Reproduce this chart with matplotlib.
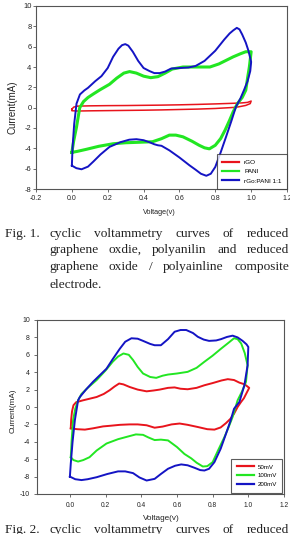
import matplotlib
matplotlib.use("Agg")
import matplotlib.pyplot as plt
import numpy as np

# ---------------- data: Fig. 1 ----------------
rgo_v = [0.0, 0.01, 0.03, 0.1, 0.2, 0.3, 0.4, 0.5, 0.6, 0.7, 0.8, 0.9, 0.95, 0.98, 1.0,
         0.995, 0.97, 0.93, 0.9, 0.8, 0.7, 0.6, 0.5, 0.4, 0.3, 0.2, 0.1, 0.03, 0.0, 0.0]
rgo_i = [-0.15, 0.05, 0.15, 0.18, 0.2, 0.21, 0.23, 0.25, 0.28, 0.32, 0.37, 0.43, 0.47, 0.52, 0.65,
         0.4, 0.22, 0.08, 0.02, -0.08, -0.14, -0.18, -0.22, -0.25, -0.27, -0.29, -0.31, -0.33, -0.3, -0.15]

pani_v = [0.0, 0.01, 0.026, 0.044, 0.065, 0.09, 0.12, 0.156, 0.21, 0.25, 0.29, 0.322, 0.36, 0.40,
          0.44, 0.48, 0.52, 0.56, 0.62, 0.70, 0.77, 0.82, 0.86, 0.90, 0.94, 0.97, 1.0,
          0.99, 0.98, 0.97, 0.95, 0.924, 0.90, 0.88, 0.855, 0.83, 0.80, 0.767, 0.74, 0.71, 0.67,
          0.62, 0.58, 0.544, 0.5, 0.45, 0.38, 0.30, 0.23, 0.15, 0.08, 0.03, 0.0]
pani_i = [-4.4, -3.3, -1.9, 0.0, 0.6, 1.0, 1.35, 1.75, 2.3, 2.9, 3.4, 3.55, 3.4, 3.1,
          2.95, 3.05, 3.4, 3.8, 4.0, 4.0, 4.0, 4.3, 4.65, 5.0, 5.3, 5.5, 5.5,
          4.0, 2.9, 1.72, 1.0, 0.41, -0.4, -1.23, -2.2, -3.04, -3.7, -4.05, -3.95, -3.7, -3.3,
          -2.87, -2.7, -2.7, -3.05, -3.35, -3.4, -3.45, -3.55, -3.8, -4.1, -4.3, -4.4]

comp_v = [0.0, 0.004, 0.013, 0.026, 0.045, 0.07, 0.09, 0.13, 0.165, 0.2, 0.23, 0.26, 0.28, 0.298,
          0.315, 0.34, 0.37, 0.40, 0.433, 0.46, 0.49, 0.52, 0.554, 0.6, 0.65, 0.69, 0.74, 0.80,
          0.85, 0.88, 0.90, 0.92, 0.935, 0.95, 0.97, 0.985, 1.0,
          0.995, 0.98, 0.96, 0.94, 0.915, 0.89, 0.86, 0.83, 0.80, 0.775, 0.75, 0.72, 0.69, 0.656,
          0.6, 0.544, 0.5, 0.48, 0.46, 0.433, 0.40, 0.36, 0.32, 0.27, 0.21, 0.16, 0.12, 0.09,
          0.054, 0.025, 0.0]
comp_i = [-5.7, -3.9, -1.6, 0.4, 1.3, 1.7, 1.95, 2.6, 3.1, 3.9, 5.0, 5.8, 6.15, 6.25,
          6.1, 5.5, 4.6, 3.9, 3.6, 3.4, 3.4, 3.55, 3.85, 3.9, 3.95, 4.1, 4.6, 5.6,
          6.7, 7.3, 7.6, 7.85, 7.7, 7.2, 6.4, 5.6, 4.5,
          3.6, 2.6, 1.72, 0.9, 0.08, -1.3, -2.87, -4.4, -5.83, -6.5, -6.7, -6.5, -6.1, -5.67,
          -4.9, -4.2, -3.75, -3.7, -3.6, -3.4, -3.2, -3.1, -3.15, -3.4, -3.86, -4.6, -5.3, -5.8,
          -6.06, -5.95, -5.7]

# ---------------- data: Fig. 2 ----------------
r50_v = [0.005, 0.007, 0.012, 0.02, 0.035, 0.074, 0.11, 0.15, 0.19, 0.223, 0.25, 0.276, 0.3, 0.335,
         0.38, 0.43, 0.47, 0.503, 0.55, 0.587, 0.62, 0.66, 0.71, 0.754, 0.8, 0.85, 0.885, 0.92,
         0.95, 0.98, 1.005,
         0.99, 0.975, 0.96, 0.94, 0.92, 0.9, 0.875, 0.845, 0.81, 0.77, 0.717, 0.66, 0.615, 0.57,
         0.52, 0.475, 0.43, 0.38, 0.335, 0.28, 0.23, 0.186, 0.13, 0.084, 0.04, 0.005]
r50_i = [-2.45, -1.5, -0.5, 0.2, 0.55, 0.77, 0.95, 1.15, 1.5, 1.93, 2.35, 2.7, 2.6, 2.3,
         2.0, 1.8, 1.9, 2.0, 2.2, 2.25, 2.1, 2.04, 2.2, 2.5, 2.75, 3.05, 3.2, 3.1,
         2.8, 2.6, 2.2,
         1.6, 1.0, 0.6, 0.0, -0.77, -1.35, -1.85, -2.35, -2.6, -2.55, -2.3, -2.05, -1.9, -2.0,
         -2.25, -2.38, -2.1, -2.0, -2.0, -2.05, -2.15, -2.23, -2.45, -2.6, -2.55, -2.45]

r100_v = [0.005, 0.01, 0.018, 0.03, 0.046, 0.065, 0.1, 0.15, 0.2, 0.24, 0.27, 0.30, 0.33, 0.354,
          0.38, 0.41, 0.45, 0.484, 0.52, 0.55, 0.6, 0.66, 0.71, 0.754, 0.8, 0.847, 0.89, 0.92,
          0.94, 0.96, 0.98, 0.996,
          0.987, 0.965, 0.94, 0.912, 0.89, 0.866, 0.83, 0.8, 0.77, 0.745, 0.71, 0.68, 0.642, 0.6,
          0.55, 0.51, 0.475, 0.44, 0.41, 0.37, 0.335, 0.27, 0.205, 0.15, 0.11, 0.075, 0.046,
          0.02, 0.005]
r100_i = [-5.77, -3.8, -1.5, -0.2, 0.77, 1.5, 2.2, 3.1, 4.2, 5.2, 5.8, 6.15, 6.0, 5.4,
          4.6, 3.85, 3.45, 3.35, 3.6, 3.73, 3.85, 4.04, 4.5, 5.2, 5.9, 6.7, 7.4, 7.9,
          7.8, 7.3, 6.2, 4.8,
          2.9, 1.8, 0.77, -1.15, -2.3, -3.46, -5.0, -6.34, -6.8, -6.84, -6.4, -5.9, -5.4, -4.6,
          -3.84, -3.75, -3.8, -3.5, -3.2, -3.15, -3.34, -3.7, -4.2, -5.0, -5.77, -6.1, -6.27,
          -6.1, -5.77]

r200_v = [0.0, 0.005, 0.015, 0.028, 0.046, 0.056, 0.09, 0.13, 0.17, 0.205, 0.24, 0.28, 0.31,
          0.345, 0.38, 0.41, 0.45, 0.475, 0.51, 0.55, 0.587, 0.62, 0.652, 0.69, 0.717, 0.75,
          0.78, 0.82, 0.847, 0.88, 0.912, 0.94, 0.968, 0.99, 1.0,
          0.996, 0.978, 0.95, 0.92, 0.9, 0.875, 0.845, 0.81, 0.78, 0.754, 0.73, 0.7, 0.66,
          0.624, 0.59, 0.55, 0.51, 0.475, 0.43, 0.39, 0.354, 0.31, 0.27, 0.21, 0.15, 0.1,
          0.065, 0.03, 0.0]
r200_i = [-8.0, -6.5, -4.0, -1.5, 0.77, 1.15, 2.0, 2.9, 3.7, 4.4, 5.5, 6.7, 7.5,
          7.9, 7.85, 7.6, 7.25, 7.1, 7.1, 7.8, 8.65, 8.85, 8.85, 8.5, 8.07, 7.75,
          7.6, 7.65, 7.8, 8.05, 8.2, 8.0, 7.6, 7.2, 6.9,
          4.8, 2.5, 0.58, -0.2, -1.6, -3.07, -4.8, -6.34, -7.1, -7.3, -7.25, -7.0, -6.7,
          -6.6, -6.75, -7.1, -7.7, -8.26, -8.45, -8.1, -7.6, -7.4, -7.4, -7.7, -8.07, -8.3,
          -8.4, -8.3, -8.0]

fig1_labels = ["rGO", "PANI", "rGo:PANI 1:1"]
fig2_labels = ["50mV", "100mV", "200mV"]
fig1_xticks = [-0.2, 0.0, 0.2, 0.4, 0.6, 0.8, 1.0, 1.2]
fig1_yticks = [-8, -6, -4, -2, 0, 2, 4, 6, 8, 10]
fig2_xticks = [0.0, 0.2, 0.4, 0.6, 0.8, 1.0, 1.2]
fig2_yticks = [-10, -8, -6, -4, -2, 0, 2, 4, 6, 8, 10]

RED, GREEN, BLUE = "#e8141c", "#22e622", "#1414c4"
SPINE = "#555555"

W, H = 290, 534
fig = plt.figure(figsize=(W / 100, H / 100), dpi=100)
fig.patch.set_facecolor("white")
SANS = "Liberation Sans"
SERIF = "Liberation Serif"


def setup(ax, xt, yt, xlim, ylim, lab_xs, lab_ys):
    ax.set_xlim(*xlim)
    ax.set_ylim(*ylim)
    ax.set_xticks(xt)
    ax.set_yticks(yt)
    ax.set_xticklabels([f"{v:.1f}" for v in xt], fontsize=lab_xs, family=SANS, color="#222222")
    ax.set_yticklabels([f"{v:d}" for v in yt], fontsize=lab_ys, family=SANS, color="#222222")
    for s in ax.spines.values():
        s.set_color(SPINE)
        s.set_linewidth(0.8)
    ax.tick_params(direction="out", length=2.5, width=0.6, color=SPINE, top=False, right=False)


# ---- Fig. 1 axes ----
ax1 = fig.add_axes([36 / W, 1 - 189 / H, (287 - 36) / W, (189 - 6) / H])
setup(ax1, fig1_xticks, fig1_yticks, (-0.2, 1.2), (-8, 10), 5.0, 5.4)
ax1.tick_params(axis="y", pad=0.8)
ax1.tick_params(axis="x", pad=1.5)
ax1.plot(rgo_v, rgo_i, color=RED, lw=1.1, label=fig1_labels[0])
ax1.plot(pani_v, pani_i, color=GREEN, lw=2.2, label=fig1_labels[1])
ax1.plot(comp_v, comp_i, color=BLUE, lw=1.4, label=fig1_labels[2])
leg1 = ax1.legend(loc="lower right", bbox_to_anchor=(1.0, 0.0), borderaxespad=0,
                  prop={"family": SANS, "size": 4.6}, frameon=True, fancybox=False,
                  handlelength=2.6, handletextpad=0.8, labelspacing=0.6, borderpad=0.85)
leg1.get_frame().set_edgecolor("#333333")
leg1.get_frame().set_linewidth(0.8)
for l in leg1.get_lines():
    l.set_linewidth(1.6)

fig.text(159.5 / W, 1 - 213 / H, "Voltage(v)", ha="center", va="center",
         fontsize=5.2, family=SANS, color="#222222")
fig.text(13 / W, 1 - 107 / H, "Current(mA)", ha="center", va="center", rotation=90,
         fontsize=7.0, family=SANS, color="#222222")

# ---- Fig. 2 axes ----
ax2 = fig.add_axes([36.7 / W, 1 - 494 / H, (284 - 36.7) / W, (494 - 320) / H])
setup(ax2, fig2_xticks, fig2_yticks, (-0.186, 1.2), (-10, 10), 4.8, 5.0)
ax2.tick_params(axis="y", pad=2.5)
ax2.tick_params(axis="x", pad=3.5)
ax2.plot(r50_v, r50_i, color=RED, lw=1.4, label=fig2_labels[0])
ax2.plot(r100_v, r100_i, color=GREEN, lw=1.4, label=fig2_labels[1])
ax2.plot(r200_v, r200_i, color=BLUE, lw=1.4, label=fig2_labels[2])
leg2 = ax2.legend(loc="lower right", bbox_to_anchor=(0.992, 0.008), borderaxespad=0,
                  prop={"family": SANS, "size": 4.4}, frameon=True, fancybox=False,
                  handlelength=2.8, handletextpad=0.6, labelspacing=0.6, borderpad=0.85)
leg2.get_frame().set_edgecolor("#333333")
leg2.get_frame().set_linewidth(0.8)
for l in leg2.get_lines():
    l.set_linewidth(1.6)

fig.text(161 / W, 1 - 519 / H, "Voltage(v)", ha="center", va="center",
         fontsize=5.9, family=SANS, color="#222222")
fig.text(12.7 / W, 1 - 410.5 / H, "Current(mA)", ha="center", va="center", rotation=90,
         fontsize=5.9, family=SANS, color="#222222")

# ---- captions (justified) ----
CAP_FS = 9.6
renderer = fig.canvas.get_renderer()


def justified(words, ybase, x0, x1):
    ts = [fig.text(0, 1 - ybase / H, w, fontsize=CAP_FS, family=SERIF, va="baseline",
                   ha="left", color="#222222") for w in words]
    ws = [t.get_window_extent(renderer).width for t in ts]
    gap = (x1 - x0 - sum(ws)) / (len(ws) - 1) if len(ws) > 1 else 0
    x = x0
    for t, w in zip(ts, ws):
        t.set_x(x / W)
        x += w + gap


def plain(text, ybase, x0):
    fig.text(x0 / W, 1 - ybase / H, text, fontsize=CAP_FS, family=SERIF, va="baseline",
             ha="left", color="#222222")


plain("Fig. 1.", 237, 5)
justified(["cyclic", "voltammetry", "curves", "of", "reduced"], 237, 49, 289)
justified(["graphene", "oxdie,", "polyanilin", "and", "reduced"], 253, 49, 289)
justified(["graphene", "oxide", "/", "polyainline", "composite"], 270, 49, 289)
plain("electrode.", 288, 49)

plain("Fig. 2.", 533, 5)
justified(["cyclic", "voltammetry", "curves", "of", "reduced"], 533, 49, 289)

fig.savefig("out.png", dpi=100)
